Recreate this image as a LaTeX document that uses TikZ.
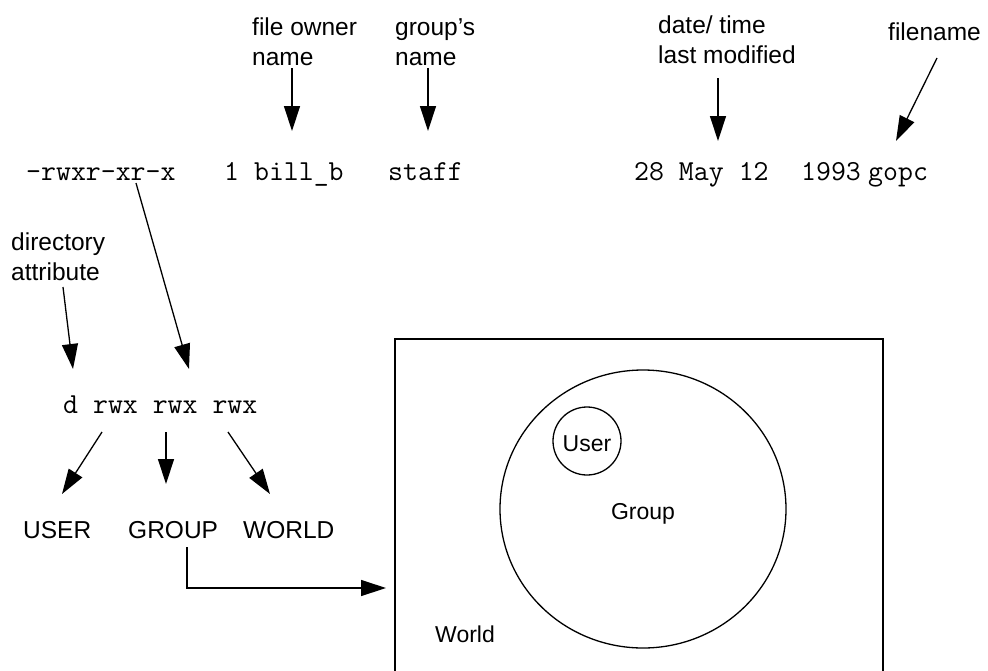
\documentclass[tikz,border=0pt]{standalone}
\usepackage{fontspec}
\setmainfont{Liberation Sans}
\usetikzlibrary{arrows.meta,shapes.geometric}

\tikzset{
  lbl/.style={anchor=base west,inner sep=0pt,align=left,
              font=\fontsize{24.5}{30}\selectfont},
  code/.style={anchor=base west,inner sep=0pt,
               font=\ttfamily\fontsize{29}{32}\selectfont},
  venn/.style={inner sep=0pt,font=\fontsize{23}{28}\selectfont},
  ptr/.style={draw=black,line width=1.3pt,
              -{Triangle[length=25pt,width=16pt]}},
  frame/.style={draw=black,line width=1.3pt}
}

\begin{document}
\begin{tikzpicture}[x=1pt,y=-1pt]
\useasboundingbox (0,0) rectangle (988,670);

% the listing line
\node[code] (perm)  at (26,180)  {-rwxr-xr-x};
\node[code] (owner) at (224,180) {1 bill\_b};
\node[code] (grp)   at (388,180) {staff};
\node[code] (date)  at (634,180) {28 May 12};
\node[code] (year)  at (801,180) {1993};
\node[code] (fname) at (868,180) {gopc};

% field labels (the anchor is the baseline of the last line)
\node[lbl] (lowner) at (252,65) {file owner\\name};
\node[lbl] (lgroup) at (395,65) {group’s\\name};
\node[lbl] (ldate)  at (658,63) {date/ time\\last modified};
\node[lbl] (lfile)  at (888,40) {filename};
\node[lbl] (ldir)   at (11,280) {directory\\attribute};

% arrow ends
\coordinate (ownerA) at (292,68);  \coordinate (ownerB) at (292,131);
\coordinate (grpA)   at (428,68);  \coordinate (grpB)   at (428,131);
\coordinate (dateA)  at (718,78);  \coordinate (dateB)  at (718,141);
\coordinate (fileA)  at (937,58);  \coordinate (fileB)  at (896,141);
\coordinate (permA)  at (136,183); \coordinate (permB)  at (189,369);
\coordinate (dirA)   at (63,287);  \coordinate (dirB)   at (73,369);

\draw[ptr] (ownerA) -- (ownerB);
\draw[ptr] (grpA) -- (grpB);
\draw[ptr] (dateA) -- (dateB);
\draw[ptr] (fileA) -- (fileB);
\draw[ptr] (permA) -- (permB);
\draw[ptr] (dirA) -- (dirB);

% permission groups
\node[code] (bits) at (63,413) {d rwx rwx rwx};

\node[lbl] (user)  at (23,538)  {USER};
\node[lbl] (group) at (128,538) {GROUP};
\node[lbl] (world) at (243,538) {WORLD};

\coordinate (uA) at (102,432); \coordinate (uB) at (62,494);
\coordinate (gA) at (166,432); \coordinate (gB) at (166,484);
\coordinate (wA) at (228,432); \coordinate (wB) at (270,494);
\draw[ptr] (uA) -- (uB);
\draw[ptr] (gA) -- (gB);
\draw[ptr] (wA) -- (wB);

% link to the set picture
\coordinate (linkA) at (187,547);
\coordinate (linkB) at (386,588);
\draw[ptr] (linkA) |- (linkB);

% nested sets
\draw[frame] (395,672) -- (395,339) -- (883,339) -- (883,672);
\node[frame,ellipse,minimum width=286pt,minimum height=278pt] (gset) at (643,509) {};
\node[frame,circle,minimum size=68pt,inner sep=0pt] (uset) at (587,441) {};
\node[venn,anchor=base] (userlbl)  at (587,451) {User};
\node[venn,anchor=base] (grouplbl) at (643,519) {Group};
\node[venn,anchor=base west] (worldlbl) at (435,642) {World};
\end{tikzpicture}
\end{document}
